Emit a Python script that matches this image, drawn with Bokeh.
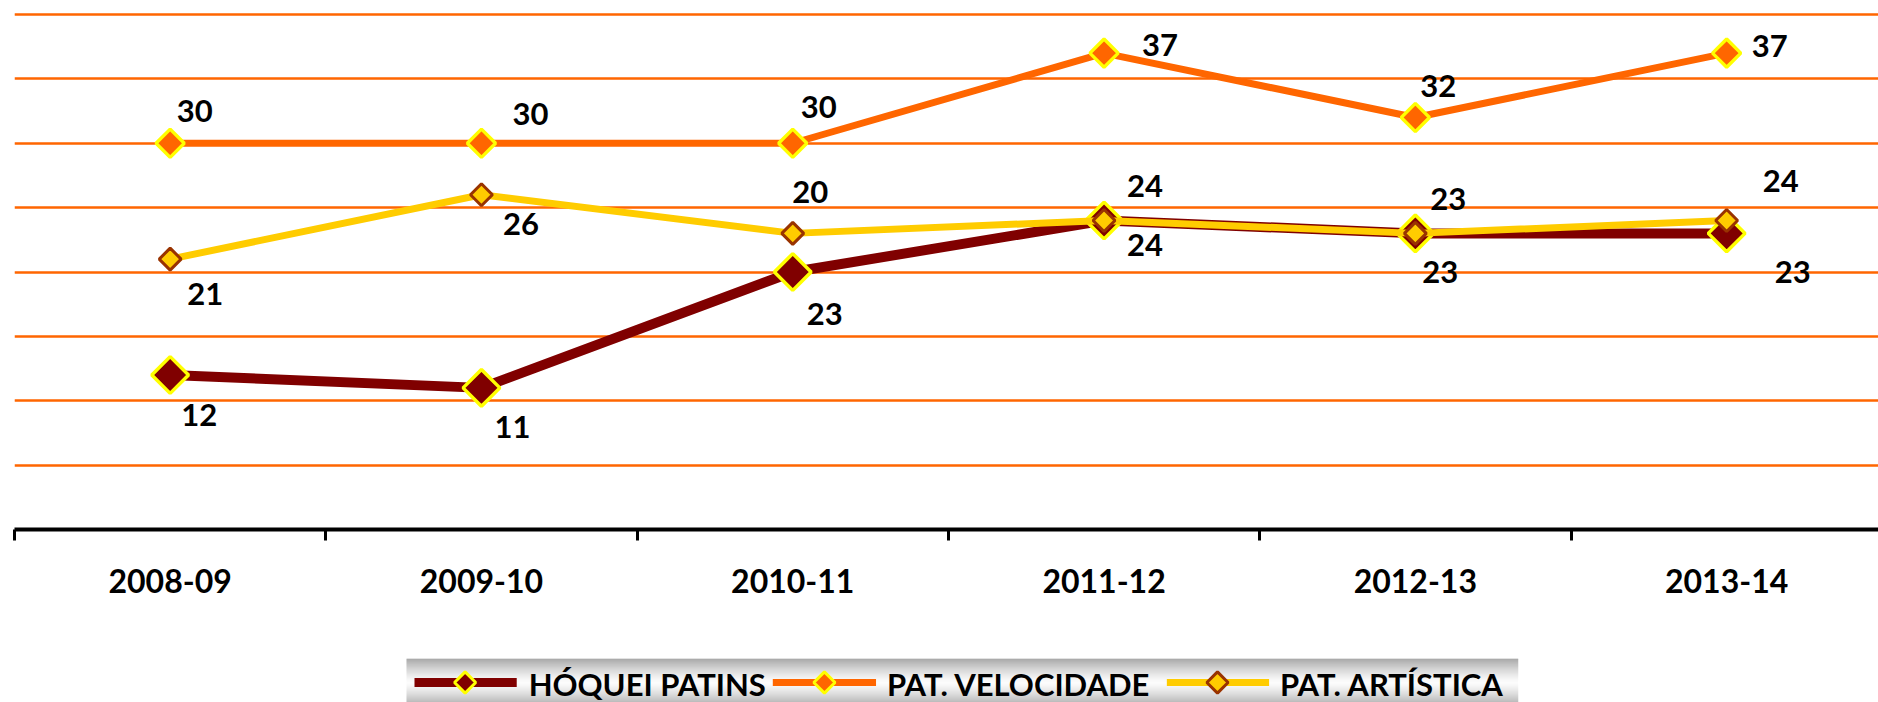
import math
from bokeh.plotting import figure
from bokeh.models import Range1d, FixedTicker, Grid, ColumnDataSource
from bokeh.layouts import column
from bokeh.embed import file_html
from bokeh.resources import INLINE
from bokeh.core.properties import value

# ---------------- data ----------------
seasons = ["2008-09", "2009-10", "2010-11", "2011-12", "2012-13", "2013-14"]
hoquei = [12, 11, 20, 24, 23, 23]
velocidade = [30, 30, 30, 37, 32, 37]
artistica = [21, 26, 23, 24, 23, 24]
legend_labels = ["HÓQUEI PATINS", "PAT. VELOCIDADE", "PAT. ARTÍSTICA"]
y_grid_values = [0, 5, 10, 15, 20, 25, 30, 35, 40]

# ---------------- style ----------------
FONT = "Lato"
ORANGE = "#FF6600"
DARKRED = "#800000"
YELLOW = "#FFFF00"
GOLD = "#FFCC00"
BROWN = "#993300"

W = 1878
H_MAIN = 658
H_LEG = 44
PX_PER_UNIT = 12.875
BOTTOM = 129
LEFT = 14
CAT_W = 311.3
LABEL_SIZE = 31

frame_h = H_MAIN - BOTTOM
y_top = frame_h / PX_PER_UNIT
n = len(seasons)
xs = [i + 0.5 for i in range(n)]
x_end = (W - LEFT) / CAT_W

# label offsets (pixels, relative to marker centre; +y = down)
hoq_off = [(29, 40), (31, 39), (17.5, -80), (41, 24), (25, 39), (66, 39)]
vel_off = [(24.5, -32), (49, -29), (26, -36), (56, -8), (23, -32), (43, -7)]
art_off = [(35, 34.5), (39.6, 29.5), (32, 81), (41, -35), (33, -34), (54, -40)]

p = figure(width=W, height=H_MAIN, x_range=Range1d(0, x_end), y_range=Range1d(0, y_top),
           output_backend="svg", toolbar_location=None, y_axis_location=None,
           min_border_left=LEFT, min_border_right=0, min_border_top=0, min_border_bottom=BOTTOM,
           outline_line_color=None, background_fill_color="white", border_fill_color="white")
p.xgrid.visible = False
p.add_layout(Grid(dimension=1, ticker=FixedTicker(ticks=y_grid_values),
                  grid_line_color=ORANGE, grid_line_width=2.6))

series = [
    (hoquei, DARKRED, 10, DARKRED, YELLOW, 26, 3.5, hoq_off),
    (velocidade, ORANGE, 7, ORANGE, YELLOW, 20, 3.3, vel_off),
    (artistica, GOLD, 7, GOLD, BROWN, 15.5, 3, art_off),
]
for vals, lc, lw, fc, oc, ms, olw, offs in series:
    p.line(xs, vals, line_color=lc, line_width=lw, line_join="round")
    p.scatter(xs, vals, marker="square", angle=math.pi / 4, size=ms,
              fill_color=fc, line_color=oc, line_width=olw)

for vals, lc, lw, fc, oc, ms, olw, offs in series:
    src = ColumnDataSource(dict(x=xs, y=vals, text=[str(v) for v in vals],
                                xo=[o[0] for o in offs], yo=[o[1] for o in offs]))
    p.text(x="x", y="y", text="text", x_offset="xo", y_offset="yo", source=src,
           text_font=value(FONT), text_font_style="bold", text_font_size=f"{LABEL_SIZE}px",
           text_align="center", text_baseline="middle", text_color="black")

ax = p.xaxis[0]
ax.ticker = FixedTicker(ticks=xs, minor_ticks=list(range(n + 1)))
ax.major_label_overrides = {x: s for x, s in zip(xs, seasons)}
ax.axis_line_width = 4
ax.axis_line_color = "black"
ax.major_tick_line_color = None
ax.major_tick_out = 0
ax.major_tick_in = 0
ax.minor_tick_line_color = "black"
ax.minor_tick_line_width = 3
ax.minor_tick_out = 11
ax.minor_tick_in = 0
ax.major_label_text_font = FONT
ax.major_label_text_font_style = "bold"
ax.major_label_text_font_size = "32px"
ax.major_label_text_color = "black"
ax.major_label_standoff = 28

# ---------------- legend strip ----------------
leg = figure(width=W, height=H_LEG, x_range=Range1d(0, W), y_range=Range1d(0, H_LEG),
             output_backend="svg", toolbar_location=None, x_axis_location=None, y_axis_location=None,
             min_border=0, outline_line_color=None, background_fill_color="white",
             border_fill_color="white")
leg.grid.visible = False

box_l, box_r = 395, 1515
tops, bots, cols = [], [], []
for k in range(H_LEG):
    t = (k + 0.5) / H_LEG
    d = abs(t - 0.55) / 0.55
    g = int(max(0, min(255, 252 - 115 * d ** 1.3)))
    tops.append(H_LEG - k)
    bots.append(H_LEG - k - 1)
    cols.append("#%02x%02x%02x" % (g, g, g))
leg.quad(left=[box_l] * H_LEG, right=[box_r] * H_LEG, top=tops, bottom=bots,
         fill_color=cols, line_color=None)

item_lines = [(403, 506), (764, 868), (1161, 1264)]
item_marks = [454, 816, 1212]
item_text = [518, 879, 1275]
line_y = H_LEG - 24
text_y = 19
for (x0, x1), mx, tx, lab, (vals, lc, lw, fc, oc, ms, olw, offs) in zip(
        item_lines, item_marks, item_text, legend_labels, series):
    leg.line([x0, x1], [line_y, line_y], line_color=lc, line_width=min(lw, 9))
    leg.scatter([mx], [line_y], marker="square", angle=math.pi / 4, size=15,
                fill_color=fc, line_color=oc, line_width=3)
    leg.text([tx], [text_y], text=[lab], text_font=value(FONT), text_font_style="bold",
             text_font_size="31px", text_align="left", text_baseline="middle",
             text_color="black")

layout = column(p, leg, spacing=0)
open("out.html", "w").write(file_html(layout, INLINE))
